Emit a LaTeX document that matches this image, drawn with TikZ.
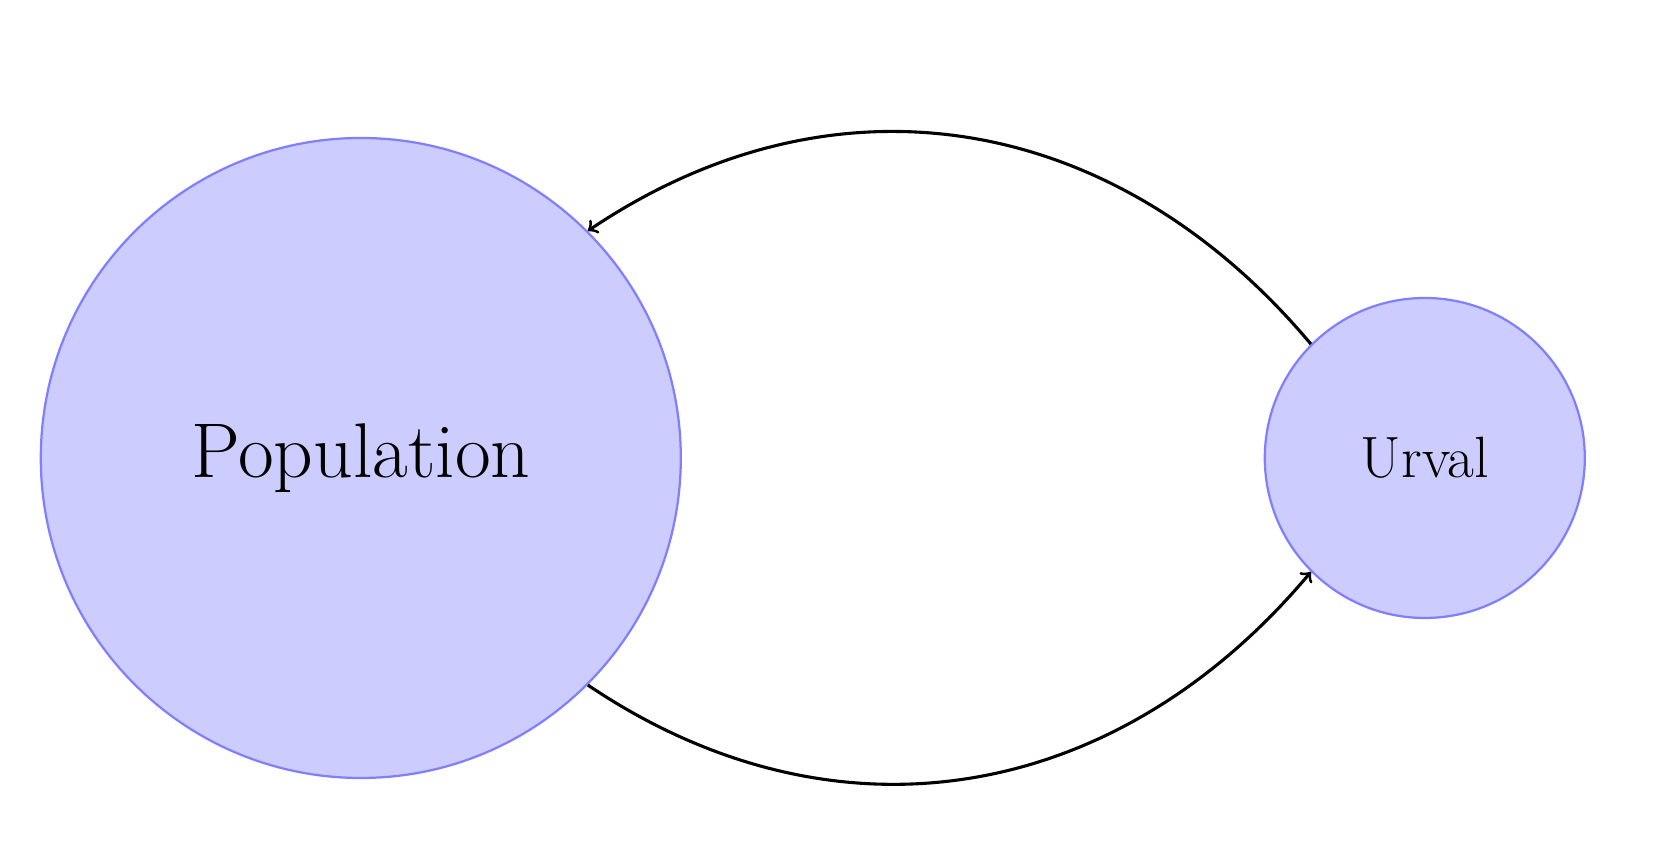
\documentclass[tikz,border=0pt]{standalone}
\definecolor{myFill}{RGB}{204, 204, 255}
\definecolor{myDraw}{RGB}{128, 128, 255}

\begin{document}
\begin{tikzpicture}[mengd/.style = {circle, draw = myDraw, fill = myFill, thick},
                    pil/.style = {->, line width = 1.1pt}]
  % Bounding box
  \useasboundingbox (0, 0) rectangle (20.75, 10.575);
  % Kreise
  \node (pop) at (4.51, 4.85) [mengd, minimum size = 8cm] {\fontsize{27.6}{33}\selectfont Population};
  \node (urval) at (17.81, 4.85) [mengd, minimum size = 4cm] {\huge Urval};
  % Pfeile
  \draw [pil] (urval.135) to [out = 130, in = 34, looseness = 1.05] (pop.45);
  \draw [pil] (pop.-45) to [out = -34, in = -130, looseness = 1.05] (urval.-135);
\end{tikzpicture}
\end{document}
